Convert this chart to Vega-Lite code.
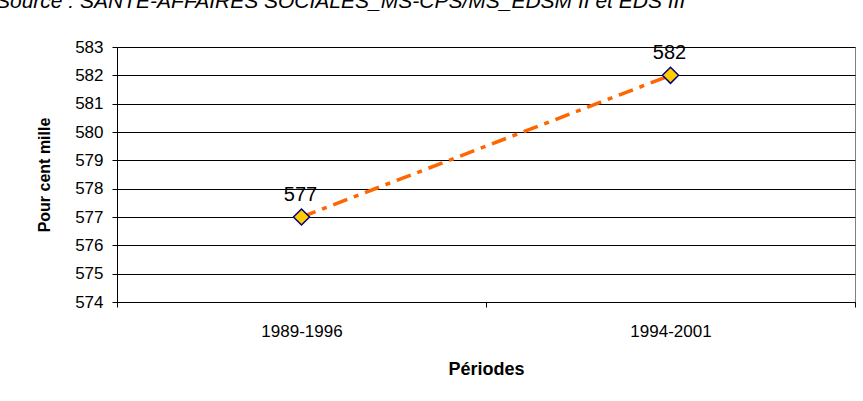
{
  "$schema": "https://vega.github.io/schema/vega-lite/v6.json",
  "width": 738,
  "height": 255,
  "autosize": "none",
  "padding": {"left": 117, "top": 47, "right": 8, "bottom": 99},
  "background": "white",
  "title": {
    "text": "Source : SANTE-AFFAIRES SOCIALES_MS-CPS/MS_EDSM II et EDS III",
    "anchor": "start",
    "frame": "group",
    "dx": -121,
    "dy": -9,
    "offset": 0,
    "baseline": "alphabetic",
    "font": "Liberation Sans",
    "fontSize": 21,
    "fontStyle": "italic",
    "fontWeight": "normal",
    "color": "black"
  },
  "config": {
    "view": {"stroke": "#808080", "strokeWidth": 1},
    "font": "Liberation Sans",
    "axis": {
      "domainColor": "black",
      "tickColor": "black",
      "labelColor": "black",
      "titleColor": "black",
      "labelFont": "Liberation Sans",
      "titleFont": "Liberation Sans"
    }
  },
  "data": {
    "values": [
      {"periode": "1989-1996", "valeur": 577},
      {"periode": "1994-2001", "valeur": 582}
    ]
  },
  "encoding": {
    "x": {
      "field": "periode",
      "type": "nominal",
      "scale": {"type": "band", "paddingInner": 0, "paddingOuter": 0},
      "axis": {
        "title": "Périodes",
        "titleFontSize": 18,
        "titleFontWeight": "bold",
        "titlePadding": 21,
        "labelAngle": 0,
        "labelFontSize": 17,
        "labelPadding": 16,
        "tickBand": "extent",
        "tickSize": 5,
        "grid": false
      }
    },
    "y": {
      "field": "valeur",
      "type": "quantitative",
      "scale": {"domain": [574, 583], "nice": false, "zero": false},
      "axis": {
        "title": "Pour cent mille",
        "titleFontSize": 16,
        "titleFontWeight": "bold",
        "titlePadding": 22,
        "values": [574, 575, 576, 577, 578, 579, 580, 581, 582, 583],
        "labelFontSize": 17,
        "labelPadding": 9,
        "tickSize": 5,
        "grid": true,
        "gridColor": "black",
        "gridOpacity": 1,
        "gridWidth": 1
      }
    }
  },
  "layer": [
    {
      "mark": {"type": "line", "color": "#FF6600", "strokeWidth": 3.5, "strokeDash": [15, 7, 5, 7]}
    },
    {
      "mark": {"type": "point", "shape": "diamond", "filled": true, "fill": "#FFCC00", "stroke": "#000080", "strokeWidth": 1.5, "size": 260, "opacity": 1}
    },
    {
      "mark": {"type": "text", "dy": -22, "dx": -1, "fontSize": 20, "font": "Liberation Sans", "color": "black"},
      "encoding": {"text": {"field": "valeur", "type": "quantitative"}}
    }
  ]
}
